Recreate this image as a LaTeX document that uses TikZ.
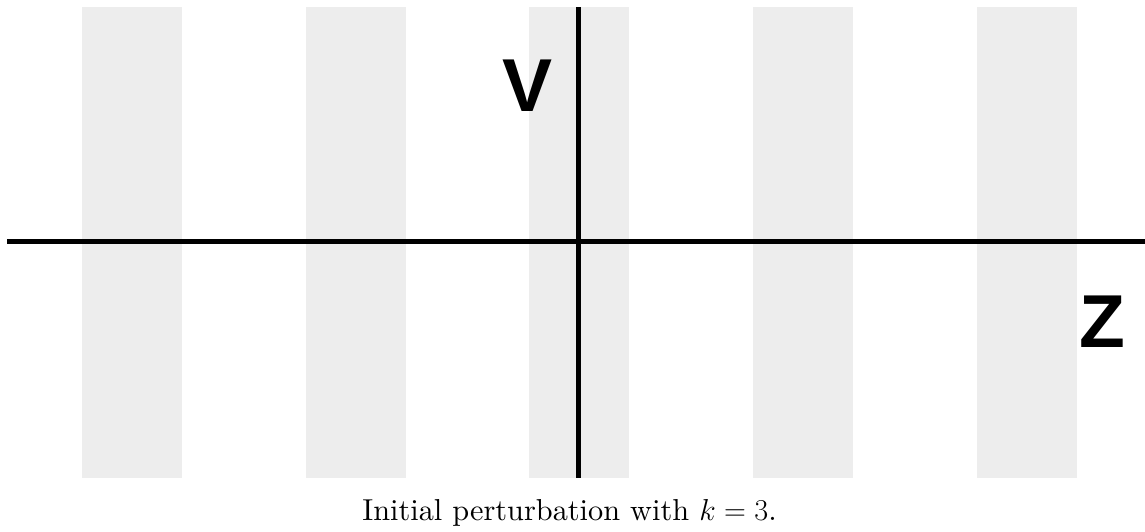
\RequirePackage{fix-cm}
\documentclass[tikz,border=0pt]{standalone}
\usepackage{fontspec}
\newfontfamily\axisfont{Liberation Sans}
\newfontfamily\capfont{lmroman10-regular.otf}
\definecolor{stripe}{HTML}{EDEDED}
\begin{document}
\begin{tikzpicture}[x=1pt,y=-1pt,
  stripebox/.style={fill=stripe,draw=none},
  axis/.style={line width=5pt,black},
  axislabel/.style={font=\axisfont\bfseries\fontsize{75}{75}\selectfont,inner sep=0pt,anchor=base},
  caption/.style={font=\capfont\fontsize{30.3}{33}\selectfont,inner sep=0pt,anchor=base}]
\useasboundingbox (0,0) rectangle (1145,531);
\foreach \x in {82,306,529,753,977}
  \fill[stripebox] (\x,7) rectangle (\x+100,478);
\coordinate (hl) at (7,241);
\coordinate (hr) at (1145,241);
\coordinate (vt) at (578,7);
\coordinate (vb) at (578,478);
\draw[axis] (hl) -- (hr);
\draw[axis] (vt) -- (vb);
\node[axislabel] (V) at (527.5,111) {V};
\node[axislabel] (Z) at (1102,347) {Z};
\node[caption] (cap) at (569.5,520) {Initial perturbation with $k=3$.};
\end{tikzpicture}
\end{document}
